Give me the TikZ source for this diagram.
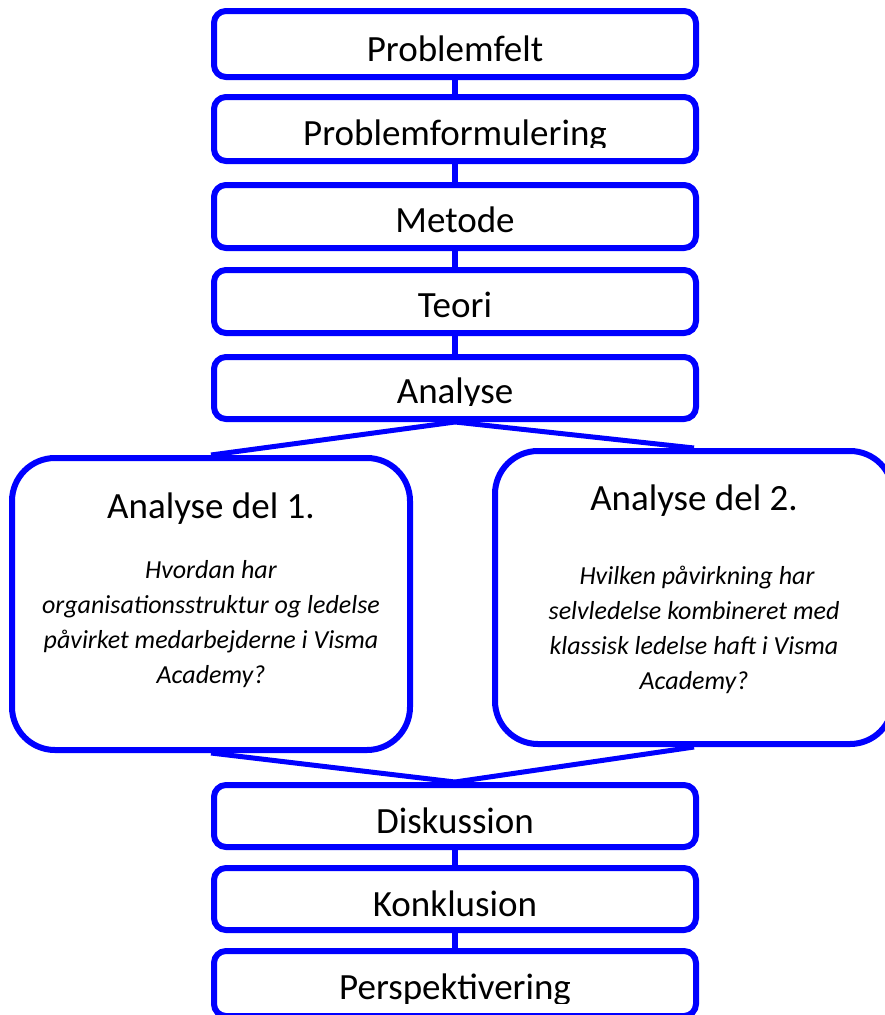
\documentclass[tikz,border=0pt]{standalone}
\usepackage{fontspec}
\setmainfont{Carlito}
\usetikzlibrary{backgrounds}
\definecolor{boxblue}{RGB}{0,0,255}
\begin{document}
\begin{tikzpicture}[x=1pt,y=-1pt,
  stepbox/.style={draw=boxblue, line width=6pt, fill=white, rounded corners=12pt,
    minimum width=482pt, inner sep=0pt},
  bigbox/.style={draw=boxblue, line width=6pt, fill=white, rounded corners=43pt,
    minimum width=398pt, inner sep=0pt},
  link/.style={draw=boxblue, line width=6pt},
  fan/.style={draw=boxblue, line width=5pt},
  title/.style={font=\fontsize{37}{40}\selectfont, anchor=base, inner sep=0pt},
  question/.style={font=\itshape\fontsize{26}{35}\selectfont, align=center,
    anchor=base, inner sep=0pt}]
\useasboundingbox (0,0) rectangle (885,1015);
\clip (0,0) rectangle (885,1015);

% boxes of the main chain
\node[stepbox, minimum height=66pt] (pf)    at (455,44)    {};
\node[stepbox, minimum height=64pt] (pform) at (455,129)   {};
\node[stepbox, minimum height=63pt] (met)   at (455,216.5) {};
\node[stepbox, minimum height=63pt] (teo)   at (455,301.5) {};
\node[stepbox, minimum height=62pt] (ana)   at (455,388)   {};
\node[bigbox,  minimum height=292pt] (a1)   at (211,604)   {};
\node[bigbox,  minimum height=293pt] (a2)   at (694,597.5) {};
\node[stepbox, minimum height=62pt] (disk)  at (455,816)   {};
\node[stepbox, minimum height=62pt] (konk)  at (455,899)   {};
\node[stepbox, minimum height=65pt] (persp) at (455,983.5) {};

% labels (multi-line questions are placed by the baseline of their last line)
\node[title] (pf-t) at (455,61) {Problemfelt};
\begin{scope}
  \clip (214,97) rectangle (696,147);
  \node[title] (pform-t) at (455,145) {Problemformulering};
\end{scope}
\node[title] (met-t) at (455,232) {Metode};
\node[title] (teo-t) at (455,317) {Teori};
\begin{scope}
  \clip (214,357) rectangle (696,405);
  \node[title] (ana-t) at (455,403) {Analyse};
\end{scope}
\node[title] (a1-t) at (211,518) {Analyse del 1.};
\node[question] (a1-q) at (211,683) {Hvordan har\\organisationsstruktur og ledelse\\påvirket medarbejderne i Visma\\Academy?};
\node[title] (a2-t) at (694,510) {Analyse del 2.};
\node[question] (a2-q) at (694,689) {\hspace*{6pt}Hvilken påvirkning har\\selvledelse kombineret med\\klassisk ledelse haft i Visma\\Academy?};
\node[title] (disk-t) at (455,833) {Diskussion};
\node[title] (konk-t) at (455,916) {Konklusion};
\begin{scope}
  \clip (214,951) rectangle (696,1003);
  \node[title] (persp-t) at (455,999) {Perspektivering};
\end{scope}

% connectors
\begin{scope}[on background layer]
  \draw[link] (pf.south) -- (pform.north);
  \draw[link] (pform.south) -- (met.north);
  \draw[link] (met.south) -- (teo.north);
  \draw[link] (teo.south) -- (ana.north);
  \draw[fan] (ana.south) -- (a1.north);
  \draw[fan] (ana.south) -- (a2.north);
  \draw[fan] (a1.south) -- (disk.north);
  \draw[fan] (a2.south) -- (disk.north);
  \draw[link] (disk.south) -- (konk.north);
  \draw[link] (konk.south) -- (persp.north);
\end{scope}
\end{tikzpicture}
\end{document}
